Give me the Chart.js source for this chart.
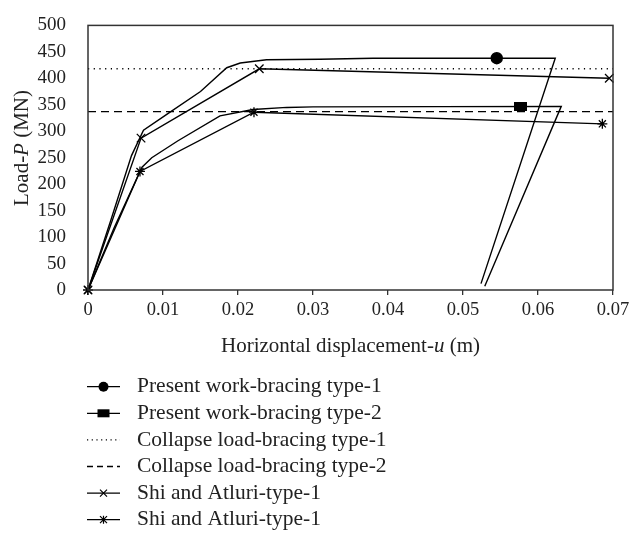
<!DOCTYPE html>
<html>
<head>
<meta charset="utf-8">
<script src="https://cdn.jsdelivr.net/npm/chart.js@4.4.1/dist/chart.umd.min.js"></script>
<style>
  body { margin: 0; background: #fff; }
  canvas { display: block; }
</style>
</head>
<body>
<canvas id="chart" width="635" height="533"></canvas>
<script>
// 軸目盛り
const xTicks = [0, 0.01, 0.02, 0.03, 0.04, 0.05, 0.06, 0.07];
const xTickLabels = ["0", "0.01", "0.02", "0.03", "0.04", "0.05", "0.06", "0.07"];
const yTicks = [0, 50, 100, 150, 200, 250, 300, 350, 400, 450, 500];
const yTickLabels = ["0", "50", "100", "150", "200", "250", "300", "350", "400", "450", "500"];

// Present work (x: m, y: MN)
const presentType1X = [0, 0.003, 0.0058, 0.0074, 0.0105, 0.015, 0.0185, 0.0203, 0.0238, 0.0309, 0.038, 0.0623, 0.0524];
const presentType1Y = [0, 130, 254, 302, 332, 375, 420, 429, 435, 436, 438, 438, 12];
const presentType2X = [0, 0.0035, 0.0072, 0.0085, 0.012, 0.0176, 0.022, 0.0265, 0.030, 0.0631, 0.0529];
const presentType2Y = [0, 118, 232, 250, 282, 329, 341, 345, 346, 347, 7];
const presentMarker1 = [0.0545, 438];
const presentMarker2 = [0.0576, 347];

// Collapse load
const collapseType1 = 418;
const collapseType2 = 337;

// Shi and Atluri
const shiType1X = [0, 0.00707, 0.02284, 0.0695];
const shiType1Y = [0, 287, 418, 400];
const shiType2X = [0, 0.00693, 0.02213, 0.06858];
const shiType2Y = [0, 224, 336, 314];

const legendLabels = [
    "Present work-bracing type-1",
    "Present work-bracing type-2",
    "Collapse load-bracing type-1",
    "Collapse load-bracing type-2",
    "Shi and Atluri-type-1",
    "Shi and Atluri-type-1",
];

const serif = '"Liberation Serif", "Times New Roman", serif';
const toPoints = (xs, ys) => xs.map((x, i) => ({ x: x, y: ys[i] }));

// 長方形マーカー
const rectMarker = document.createElement("canvas");
rectMarker.width = 13;
rectMarker.height = 9;
(function () {
    const c = rectMarker.getContext("2d");
    c.fillStyle = "#000";
    c.fillRect(0, 0, 13, 9);
})();

const lineBase = {
    borderColor: "#000",
    backgroundColor: "#000",
    borderWidth: 1.4,
    pointRadius: 0,
    showLine: true,
    tension: 0,
    clip: false,
};

// 枠・軸タイトル・凡例
function drawMixed(ctx, parts, cx, cy, size) {
    let total = 0;
    parts.forEach((p) => {
        ctx.font = (p[1] ? "italic " : "") + size + "px " + serif;
        total += ctx.measureText(p[0]).width;
    });
    let x = cx - total / 2;
    parts.forEach((p) => {
        ctx.font = (p[1] ? "italic " : "") + size + "px " + serif;
        ctx.fillText(p[0], x, cy);
        x += ctx.measureText(p[0]).width;
    });
}

function drawMarker(ctx, kind, x, y) {
    ctx.save();
    ctx.fillStyle = "#000";
    ctx.strokeStyle = "#000";
    ctx.lineWidth = 1.2;
    ctx.beginPath();
    if (kind === "circle") {
        ctx.arc(x, y, 5, 0, Math.PI * 2);
        ctx.fill();
    } else if (kind === "rect") {
        ctx.fillRect(x - 6, y - 4, 12, 8);
    } else if (kind === "cross") {
        ctx.moveTo(x - 3.5, y - 3.5); ctx.lineTo(x + 3.5, y + 3.5);
        ctx.moveTo(x + 3.5, y - 3.5); ctx.lineTo(x - 3.5, y + 3.5);
        ctx.stroke();
    } else if (kind === "star") {
        ctx.moveTo(x - 3.5, y - 3.5); ctx.lineTo(x + 3.5, y + 3.5);
        ctx.moveTo(x + 3.5, y - 3.5); ctx.lineTo(x - 3.5, y + 3.5);
        ctx.moveTo(x, y - 4); ctx.lineTo(x, y + 4);
        ctx.stroke();
    }
    ctx.restore();
}

const legendStyles = [
    { dash: [], marker: "circle" },
    { dash: [], marker: "rect" },
    { dash: [1.2, 3.5], marker: null },
    { dash: [6, 4], marker: null },
    { dash: [], marker: "cross" },
    { dash: [], marker: "star" },
];

const decor = {
    id: "decor",
    afterDraw(chart) {
        const ctx = chart.ctx;
        const a = chart.chartArea;
        ctx.save();
        ctx.strokeStyle = "#333";
        ctx.lineWidth = 1.5;
        ctx.strokeRect(a.left, a.top, a.right - a.left, a.bottom - a.top);

        ctx.fillStyle = "#222";
        ctx.textBaseline = "middle";
        drawMixed(ctx, [["Horizontal displacement-", false], ["u", true], [" (m)", false]], (a.left + a.right) / 2, 346, 21);

        ctx.save();
        ctx.translate(22, 148);
        ctx.rotate(-Math.PI / 2);
        drawMixed(ctx, [["Load-", false], ["P", true], [" (MN)", false]], 0, 0, 21);
        ctx.restore();

        // 凡例
        legendLabels.forEach((label, i) => {
            const y = 386.7 + i * 26.6;
            const st = legendStyles[i];
            ctx.save();
            ctx.strokeStyle = "#000";
            ctx.lineWidth = 1.3;
            ctx.setLineDash(st.dash);
            ctx.beginPath();
            ctx.moveTo(87, y);
            ctx.lineTo(120, y);
            ctx.stroke();
            ctx.restore();
            if (st.marker) drawMarker(ctx, st.marker, 103.5, y);
            ctx.font = "21.5px " + serif;
            ctx.textAlign = "left";
            ctx.fillText(label, 137, y);
        });
        ctx.restore();
    },
};

const ctx = document.getElementById("chart").getContext("2d");
const chart = new Chart(ctx, {
    type: "scatter",
    data: {
        datasets: [
            { ...lineBase, label: legendLabels[0], data: toPoints(presentType1X, presentType1Y) },
            { ...lineBase, label: legendLabels[1], data: toPoints(presentType2X, presentType2Y) },
            { ...lineBase, label: legendLabels[2], borderDash: [1.2, 4.5], data: toPoints([0, 0.07], [collapseType1, collapseType1]) },
            { ...lineBase, label: legendLabels[3], borderDash: [8, 5], data: toPoints([0, 0.07], [collapseType2, collapseType2]) },
            { ...lineBase, label: legendLabels[4], pointStyle: "crossRot", pointRadius: 6, pointBorderWidth: 1.3, data: toPoints(shiType1X, shiType1Y) },
            { ...lineBase, label: legendLabels[5], pointStyle: "star", pointRadius: 5, pointBorderWidth: 1.3, data: toPoints(shiType2X, shiType2Y) },
            { ...lineBase, label: "marker-1", showLine: false, pointStyle: "circle", pointRadius: 5.5, data: [{ x: presentMarker1[0], y: presentMarker1[1] }] },
            { ...lineBase, label: "marker-2", showLine: false, pointStyle: rectMarker, pointRadius: 6, data: [{ x: presentMarker2[0], y: presentMarker2[1] }] },
        ],
    },
    options: {
        responsive: false,
        animation: false,
        layout: { padding: { left: 0, top: 14, right: 22, bottom: 173 } },
        scales: {
            x: {
                type: "linear",
                min: 0,
                max: 0.07,
                afterBuildTicks: (s) => { s.ticks = xTicks.map((v) => ({ value: v })); },
                afterFit: (s) => { s.height = 70; },
                ticks: {
                    color: "#222",
                    padding: 4,
                    maxRotation: 0,
                    font: { family: serif, size: 18.5 },
                    callback: (v, i) => xTickLabels[i],
                },
                grid: { drawOnChartArea: false, drawTicks: true, tickLength: 5, color: "#333", lineWidth: 1.3 },
                border: { display: false },
            },
            y: {
                min: 0,
                max: 500,
                afterBuildTicks: (s) => { s.ticks = yTicks.map((v) => ({ value: v })); },
                afterFit: (s) => { s.width = 88; },
                ticks: {
                    color: "#222",
                    padding: 14,
                    font: { family: serif, size: 19 },
                    callback: (v, i) => yTickLabels[i],
                },
                grid: { display: false },
                border: { display: false },
            },
        },
        plugins: {
            legend: { display: false },
            tooltip: { enabled: false },
        },
    },
    plugins: [decor],
});
</script>
</body>
</html>
